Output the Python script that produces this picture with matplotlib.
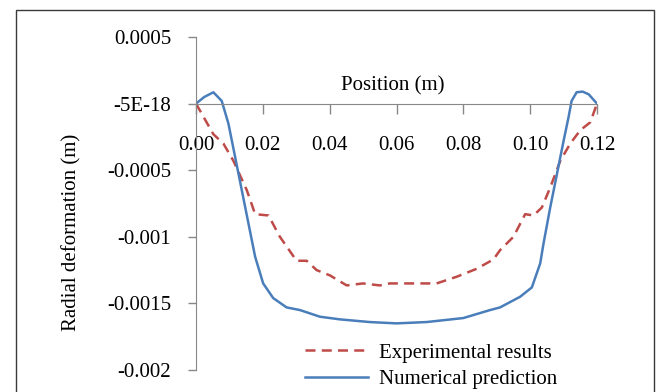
import matplotlib
matplotlib.use('Agg')
import matplotlib.pyplot as plt
from matplotlib.patches import Rectangle
from matplotlib.ticker import FixedLocator, FixedFormatter

# Experimental results (red dashed)
exp_x = [0.0, 0.0052, 0.0082, 0.0112, 0.0152, 0.0177, 0.0217, 0.0251, 0.0301,
         0.0331, 0.0361, 0.0401, 0.0451, 0.050, 0.055, 0.058, 0.065, 0.072,
         0.078, 0.084, 0.089, 0.091, 0.095, 0.0985, 0.101, 0.1035, 0.106,
         0.109, 0.112, 0.115, 0.118, 0.120]
exp_y = [0.0, -0.00023, -0.0003, -0.00043, -0.00065, -0.00083, -0.00084,
         -0.001, -0.00118, -0.00118, -0.00125, -0.00129, -0.001365,
         -0.00135, -0.001365, -0.00135, -0.00135, -0.00135, -0.0013,
         -0.00124, -0.00117, -0.0011, -0.001, -0.00083, -0.00084, -0.00078,
         -0.00063, -0.00043, -0.0003, -0.0002, -0.00014, 0.0]

# Numerical prediction (blue solid)
num_x = [0.0, 0.0025, 0.0052, 0.0077, 0.0097, 0.0117, 0.0137, 0.0157, 0.0177,
         0.0201, 0.0231, 0.0271, 0.0311, 0.0371, 0.0431, 0.052, 0.060, 0.069,
         0.080, 0.088, 0.091, 0.097, 0.1005, 0.103, 0.104, 0.106, 0.108,
         0.110, 0.1115, 0.1124, 0.1139, 0.1157, 0.1175, 0.120]
num_y = [0.0, 0.00005, 0.000085, 0.00002, -0.00015, -0.0004, -0.00065,
         -0.0009, -0.00115, -0.00135, -0.00146, -0.00153, -0.00155, -0.0016,
         -0.00162, -0.00164, -0.00165, -0.00164, -0.00161, -0.00155,
         -0.00153, -0.00145, -0.00138, -0.0012, -0.00105, -0.00078, -0.00053,
         -0.00028, -0.0001, 0.00002, 0.000085, 0.00009, 0.00007, 0.0]

x_ticks = [0.0, 0.02, 0.04, 0.06, 0.08, 0.10, 0.12]
x_labels = ['0.00', '0.02', '0.04', '0.06', '0.08', '0.10', '0.12']
y_ticks = [0.0005, 0.0, -0.0005, -0.001, -0.0015, -0.002]
y_labels = ['0.0005', '-5E-18', '-0.0005', '-0.001', '-0.0015', '-0.002']

plt.rcParams['font.family'] = ['Liberation Serif', 'DejaVu Serif']
FS = 15
W, H = 660, 392

fig = plt.figure(figsize=(W / 100, H / 100), dpi=100)
ax = fig.add_axes([196 / W, (H - 370) / H, (597 - 196) / W, 333 / H])

# outer chart border (cut at bottom)
fig.patches.append(Rectangle((16 / W, -0.1), (654 - 16) / W, 1.1 - 10 / H,
                             transform=fig.transFigure, fill=False,
                             edgecolor='#3a3a3a', linewidth=1.0))

ax.plot(exp_x, exp_y, color='#BE4B48', linewidth=1.8, dashes=(4, 2.5),
        label='Experimental results')
ax.plot(num_x, num_y, color='#4A7EBB', linewidth=1.8,
        label='Numerical prediction')

ax.set_xlim(0, 0.12)
ax.set_ylim(-0.002, 0.0005)

axis_col = '#888888'
for s in ['top', 'right']:
    ax.spines[s].set_visible(False)
ax.spines['bottom'].set_position(('data', 0))
ax.spines['bottom'].set_color(axis_col)
ax.spines['left'].set_color(axis_col)

ax.xaxis.set_major_locator(FixedLocator(x_ticks))
ax.xaxis.set_major_formatter(FixedFormatter(x_labels))
ax.yaxis.set_major_locator(FixedLocator(y_ticks))
ax.yaxis.set_major_formatter(FixedFormatter(y_labels))
ax.tick_params(axis='x', direction='out', length=7, width=1, color=axis_col,
               labelsize=FS, pad=16)
ax.tick_params(axis='y', direction='out', length=6, width=1, color=axis_col,
               labelsize=FS, pad=12)

ax.text(0.49, 0.853, 'Position (m)', transform=ax.transAxes, fontsize=FS,
        ha='center', va='center')
ax.text(-0.309, 0.414, 'Radial deformation (m)', transform=ax.transAxes,
        fontsize=FS, ha='center', va='center', rotation=90)

ax.legend(loc='upper left', bbox_to_anchor=(305 / W, 1 - 343 / H),
          bbox_transform=fig.transFigure, frameon=False, fontsize=FS,
          handlelength=3.0, handletextpad=0.55, labelspacing=0.32,
          borderpad=0, borderaxespad=0)

fig.savefig('out.png', dpi=100)
